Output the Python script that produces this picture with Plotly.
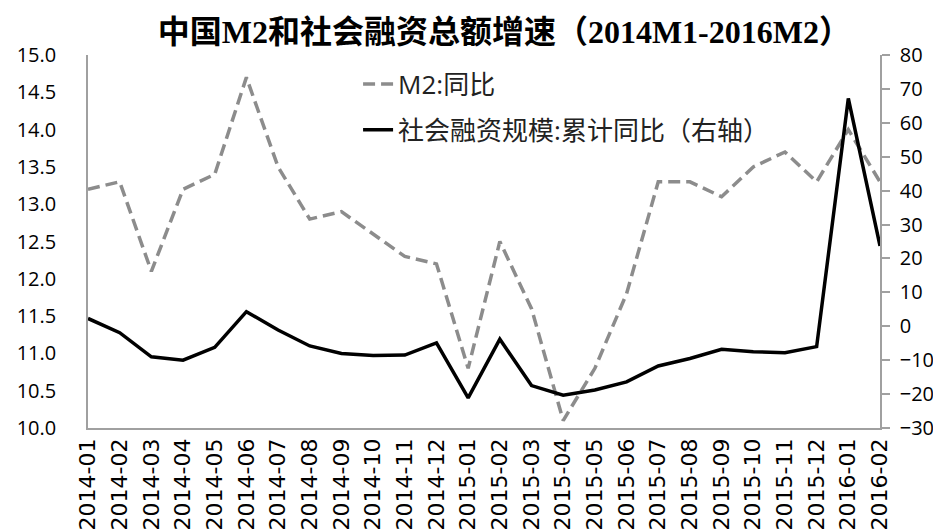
import plotly.graph_objects as go

months = ["2014-01", "2014-02", "2014-03", "2014-04", "2014-05", "2014-06",
          "2014-07", "2014-08", "2014-09", "2014-10", "2014-11", "2014-12",
          "2015-01", "2015-02", "2015-03", "2015-04", "2015-05", "2015-06",
          "2015-07", "2015-08", "2015-09", "2015-10", "2015-11", "2015-12",
          "2016-01", "2016-02"]

m2_yoy = [13.2, 13.3, 12.1, 13.2, 13.4, 14.7, 13.5, 12.8, 12.9, 12.6, 12.3, 12.2,
          10.8, 12.5, 11.6, 10.1, 10.8, 11.8, 13.3, 13.3, 13.1, 13.5, 13.7, 13.3,
          14.0, 13.3]

tsf_yoy = [2.3, -1.9, -9.0, -10.0, -6.2, 4.3, -1.1, -5.8, -8.0, -8.6, -8.5, -4.9,
           -21.1, -3.8, -17.5, -20.3, -18.8, -16.4, -11.7, -9.5, -6.8, -7.5, -7.8, -6.0,
           67.2, 23.7]

base_font = "'Open Sans', 'Noto Sans CJK SC', sans-serif"
axis_col = "#a0a0a0"

fig = go.Figure()
fig.add_trace(go.Scatter(x=months, y=m2_yoy, name="M2:同比", mode="lines",
                         legendgroup="a",
                         line=dict(color="#8c8c8c", width=3.5, dash="12px,6px")))
fig.add_trace(go.Scatter(x=months, y=tsf_yoy, name="社会融资规模:累计同比（右轴）",
                         mode="lines", yaxis="y2", legendgroup="b",
                         line=dict(color="#000000", width=3.5)))

# page body has an 8px margin, so the figure is sized and offset to fit
fig.update_layout(
    width=933, height=523,
    margin=dict(l=80, r=61, t=47, b=103),
    paper_bgcolor="white", plot_bgcolor="white",
    title=dict(text="<b>中国M2和社会融资总额增速（2014M1-2016M2）</b>",
               x=0.532, xanchor="center", y=0.954, yanchor="middle",
               font=dict(family="'Liberation Serif', 'Noto Sans CJK SC'",
                         size=32, color="black")),
    font=dict(family=base_font, color="black"),
    showlegend=True,
    legend=dict(x=0.341, y=0.985, xanchor="left", yanchor="top",
                font=dict(size=26, color="#222222"),
                bgcolor="rgba(0,0,0,0)", traceorder="grouped",
                tracegroupgap=9),
    xaxis=dict(type="category", tickangle=-90, showline=True, linecolor=axis_col,
               linewidth=1.5, ticks="", showgrid=False, automargin=False,
               tickfont=dict(size=22, family="'DejaVu Sans', sans-serif")),
    yaxis=dict(range=[10, 15], dtick=0.5, tickformat=".1f", showline=True,
               linecolor=axis_col, linewidth=1.5, ticks="", showgrid=False,
               zeroline=False, automargin=False, ticklabelstandoff=26,
               tickfont=dict(size=20)),
    yaxis2=dict(range=[-30, 80], dtick=10, overlaying="y", side="right",
                showline=True, linecolor=axis_col, linewidth=1.5,
                ticks="outside", ticklen=8, tickcolor=axis_col, tickwidth=1.5,
                showgrid=False, zeroline=False, automargin=False,
                ticklabelstandoff=6, tickfont=dict(size=20)),
)

fig.write_html("out.html")
